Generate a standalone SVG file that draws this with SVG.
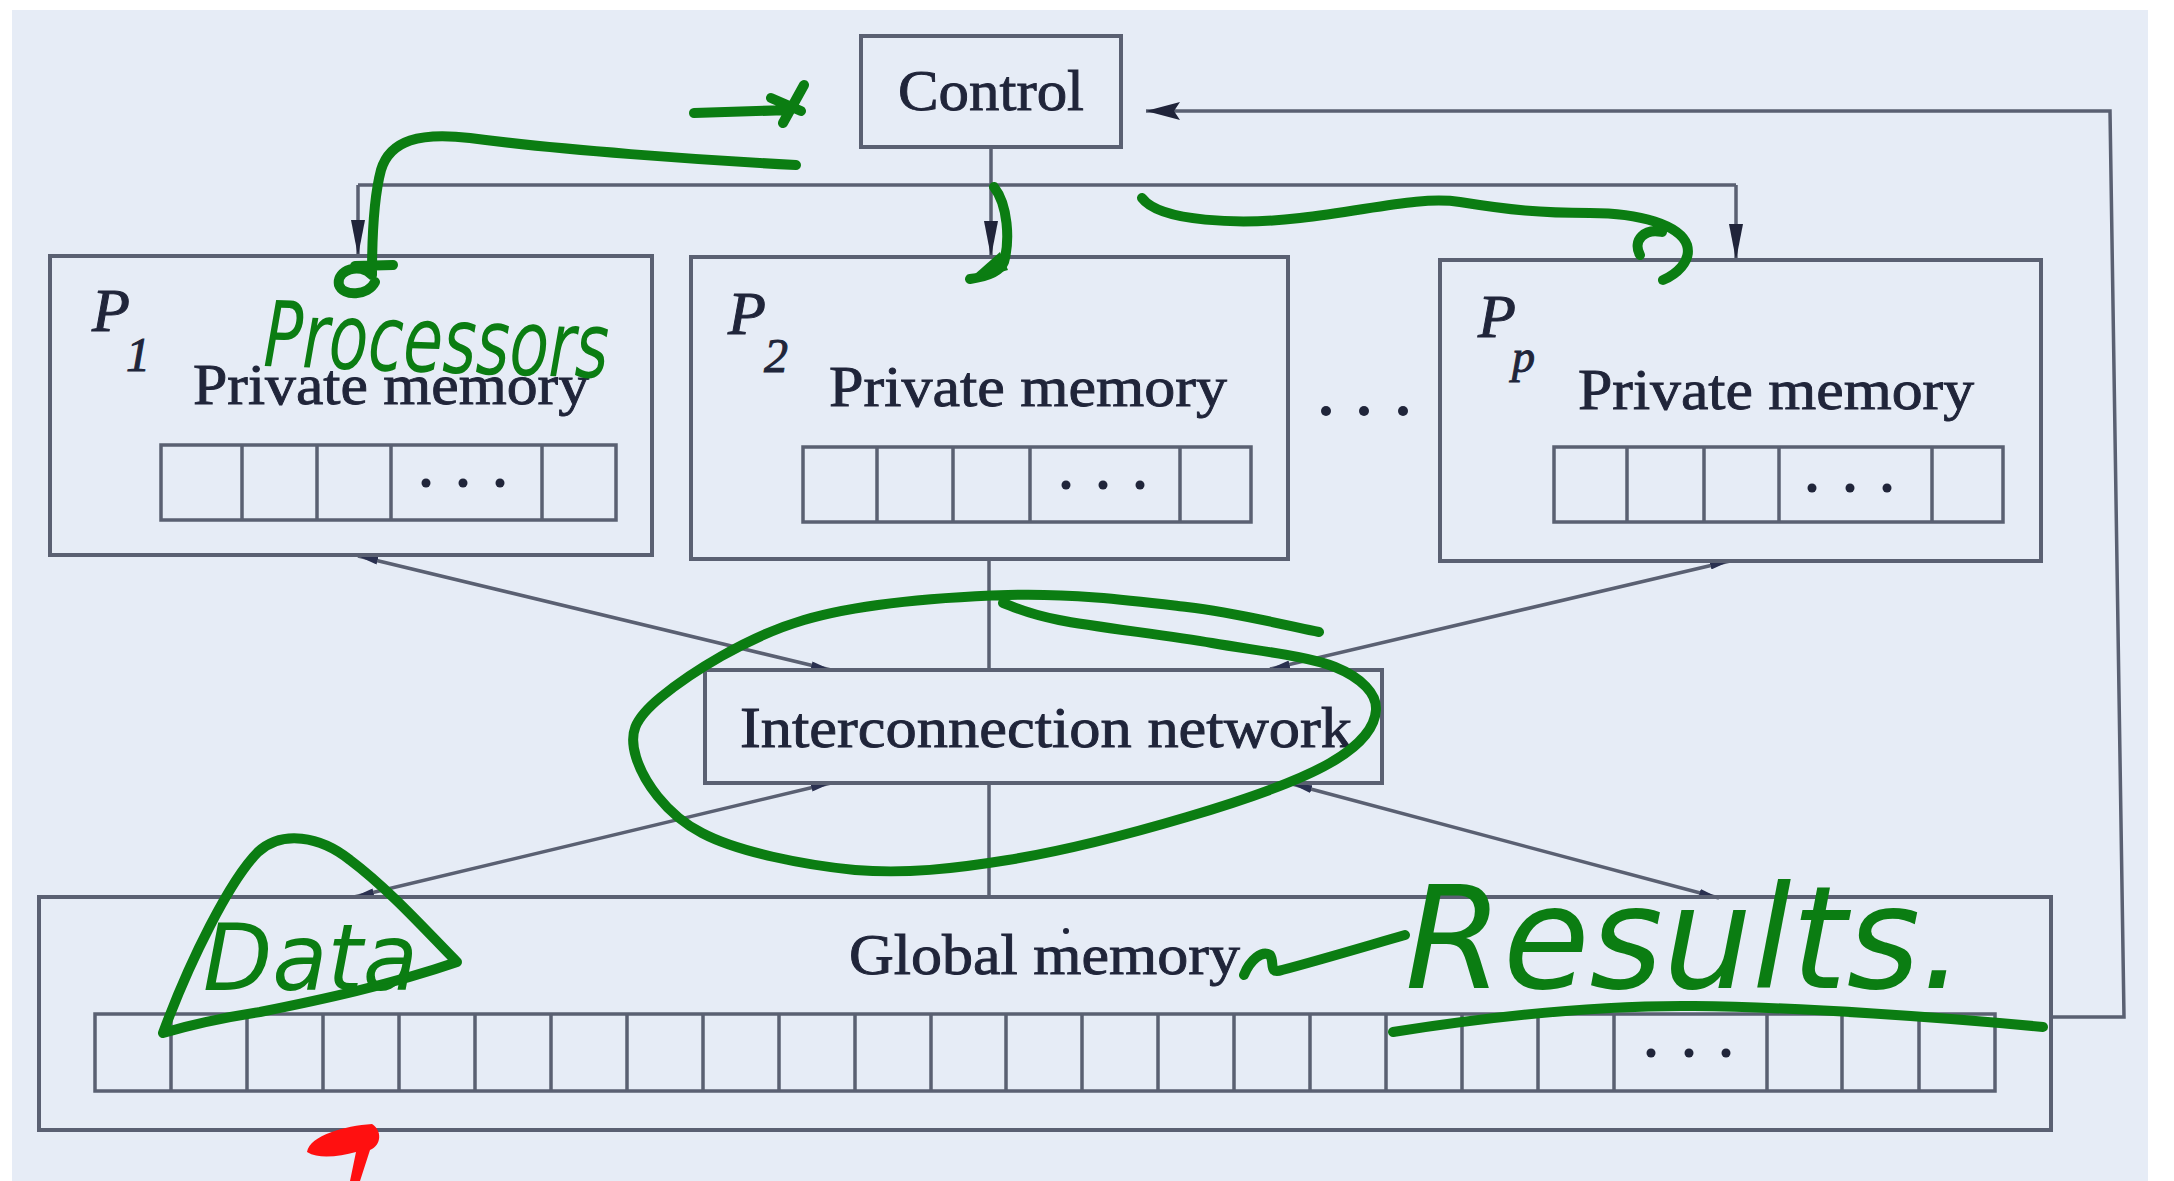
<svg xmlns="http://www.w3.org/2000/svg" width="2174" height="1181" viewBox="0 0 2174 1181">
  <defs>
    <style>
      .box{fill:none;stroke:#5a6072;stroke-width:4}
      .cell{fill:none;stroke:#5a6072;stroke-width:3.5}
      .wire{fill:none;stroke:#5a6072;stroke-width:3.5}
      .lbl{font-family:"Liberation Serif","Times New Roman",serif;font-size:58px;fill:#20253a;stroke:#20253a;stroke-width:0.9}
      .pn{font-family:"Liberation Serif","Times New Roman",serif;font-style:italic;fill:#20253a;stroke:#20253a;stroke-width:1}
      .dot{fill:#20253a}
      .ink{fill:none;stroke:#0b7d12;stroke-width:10;stroke-linecap:round;stroke-linejoin:round}
      .hand{font-family:"DejaVu Sans",sans-serif;font-style:italic;fill:#0b7d12}
    </style>
    <marker id="drop" markerUnits="userSpaceOnUse" markerWidth="36" markerHeight="14" refX="36" refY="7" orient="auto" viewBox="0 0 36 14">
      <path d="M0,0 L36,7 L0,14 Z" fill="#20243a"/>
    </marker>
    <marker id="back" markerUnits="userSpaceOnUse" markerWidth="34" markerHeight="18" refX="34" refY="9" orient="auto" viewBox="0 0 34 18">
      <path d="M0,0 L34,9 L0,18 L6,9 Z" fill="#20243a"/>
    </marker>
    <marker id="tip" markerUnits="userSpaceOnUse" markerWidth="20" markerHeight="8" refX="20" refY="4" orient="auto-start-reverse" viewBox="0 0 20 8">
      <path d="M0,0 L20,4 L0,8 Z" fill="#2a3050"/>
    </marker>
  </defs>

  <!-- page -->
  <rect x="0" y="0" width="2174" height="1181" fill="#ffffff"/>
  <rect x="12" y="10" width="2136" height="1171" fill="#e6ecf6"/>

  <!-- connectors -->
  <g id="connectors">
    <path class="wire" d="M991,147 V185"/>
    <path class="wire" d="M358,185 H1736"/>
    <path class="wire" d="M358,185 V256" marker-end="url(#drop)"/>
    <path class="wire" d="M991,185 V257" marker-end="url(#drop)"/>
    <path class="wire" d="M1736,185 V260" marker-end="url(#drop)"/>
    <path class="wire" d="M358,556 L831,670" marker-start="url(#tip)" marker-end="url(#tip)"/>
    <path class="wire" d="M989,559 V670"/>
    <path class="wire" d="M1730,561 L1270,669" marker-start="url(#tip)" marker-end="url(#tip)"/>
    <path class="wire" d="M831,783 L354,897" marker-start="url(#tip)" marker-end="url(#tip)"/>
    <path class="wire" d="M989,783 V897"/>
    <path class="wire" d="M1292,784 L1719,898" marker-start="url(#tip)" marker-end="url(#tip)"/>
    <path class="wire" d="M2051,1017 H2124 L2110,111 H1146" marker-end="url(#back)"/>
  </g>

  <!-- control unit -->
  <g id="node-control">
    <rect class="box" x="861" y="36" width="260" height="111"/>
    <text class="lbl" x="898" y="110" textLength="186" lengthAdjust="spacingAndGlyphs">Control</text>
  </g>

  <!-- processor 1 -->
  <g id="node-p1">
    <rect class="box" x="50" y="256" width="602" height="299"/>
    <text class="pn" x="92" y="331" font-size="62">P</text>
    <text class="pn" x="126" y="371" font-size="48">1</text>
    <text class="lbl" x="193" y="404" textLength="396" lengthAdjust="spacingAndGlyphs">Private memory</text>
    <rect class="cell" x="161" y="445" width="455" height="75"/>
    <path class="cell" d="M242,445 V520 M317,445 V520 M391,445 V520 M542,445 V520"/>
    <circle class="dot" cx="426" cy="483" r="4.5"/>
    <circle class="dot" cx="463" cy="483" r="4.5"/>
    <circle class="dot" cx="500" cy="483" r="4.5"/>
  </g>

  <!-- processor 2 -->
  <g id="node-p2">
    <rect class="box" x="691" y="257" width="597" height="302"/>
    <text class="pn" x="728" y="334" font-size="62">P</text>
    <text class="pn" x="764" y="372" font-size="48">2</text>
    <text class="lbl" x="829" y="406" textLength="398" lengthAdjust="spacingAndGlyphs">Private memory</text>
    <rect class="cell" x="803" y="447" width="448" height="75"/>
    <path class="cell" d="M877,447 V522 M953,447 V522 M1030,447 V522 M1180,447 V522"/>
    <circle class="dot" cx="1066" cy="485" r="4.5"/>
    <circle class="dot" cx="1103" cy="485" r="4.5"/>
    <circle class="dot" cx="1140" cy="485" r="4.5"/>
  </g>

  <!-- more processors -->
  <g id="node-ellipsis">
    <circle class="dot" cx="1326" cy="411" r="5"/>
    <circle class="dot" cx="1364" cy="411" r="5"/>
    <circle class="dot" cx="1403" cy="411" r="5"/>
  </g>

  <!-- processor p -->
  <g id="node-pp">
    <rect class="box" x="1440" y="260" width="601" height="301"/>
    <text class="pn" x="1478" y="337" font-size="62">P</text>
    <text class="pn" x="1512" y="372" font-size="46">p</text>
    <text class="lbl" x="1578" y="409" textLength="396" lengthAdjust="spacingAndGlyphs">Private memory</text>
    <rect class="cell" x="1554" y="447" width="449" height="75"/>
    <path class="cell" d="M1627,447 V522 M1704,447 V522 M1779,447 V522 M1932,447 V522"/>
    <circle class="dot" cx="1812" cy="488" r="4.5"/>
    <circle class="dot" cx="1850" cy="488" r="4.5"/>
    <circle class="dot" cx="1887" cy="488" r="4.5"/>
  </g>

  <!-- interconnection network -->
  <g id="node-interconnect">
    <rect class="box" x="705" y="670" width="677" height="113"/>
    <text class="lbl" x="740" y="747" textLength="612" lengthAdjust="spacingAndGlyphs">Interconnection network</text>
  </g>

  <!-- global memory -->
  <g id="node-global">
    <rect class="box" x="39" y="897" width="2012" height="233"/>
    <text class="lbl" x="849" y="974" textLength="391" lengthAdjust="spacingAndGlyphs">Global memory</text>
    <circle class="dot" cx="1066" cy="931" r="3"/>
    <rect class="cell" x="95" y="1014" width="1900" height="77"/>
    <path class="cell" d="M171,1014 V1091 M247,1014 V1091 M323,1014 V1091 M399,1014 V1091 M475,1014 V1091 M551,1014 V1091 M627,1014 V1091 M703,1014 V1091 M779,1014 V1091 M855,1014 V1091 M931,1014 V1091 M1006,1014 V1091 M1082,1014 V1091 M1158,1014 V1091 M1234,1014 V1091 M1310,1014 V1091 M1386,1014 V1091 M1462,1014 V1091 M1538,1014 V1091 M1614,1014 V1091 M1767,1014 V1091 M1842,1014 V1091 M1919,1014 V1091"/>
    <circle class="dot" cx="1651" cy="1053" r="4.5"/>
    <circle class="dot" cx="1689" cy="1053" r="4.5"/>
    <circle class="dot" cx="1726" cy="1053" r="4.5"/>
  </g>

  <!-- pen notes -->
  <g id="pen-notes">
    <path class="ink" d="M694,113 L790,110 M804,85 L783,123 M771,98 L801,111"/>
    <path class="ink" d="M796,165 C700,160 560,150 470,138 C420,132 390,140 381,170 C373,200 372,240 372,275 M372,275 C360,262 336,270 339,285 C343,297 368,296 375,282 M355,266 L393,265"/>
    <text class="hand" font-size="70" textLength="345" lengthAdjust="spacingAndGlyphs" transform="translate(263 366) rotate(2) scale(1 1.3)">Processors</text>
    <path class="ink" d="M994,187 C1008,205 1010,240 1004,262 C1000,272 985,277 970,279"/>
    <path d="M966,282 L1000,252 L1008,270 Z" fill="#0b7d12"/>
    <path class="ink" d="M1142,198 C1160,222 1240,225 1300,218 C1370,210 1420,196 1460,202 C1510,210 1540,213 1590,213 C1640,213 1680,225 1687,245 C1692,262 1675,275 1663,280 M1640,255 C1632,240 1645,228 1662,232"/>
    <path class="ink" d="M1319,632 C1297,628 1239,613 1187,607 C1135,601 1072,593 1008,595 C944,597 862,603 804,620 C746,637 689,674 661,697 C633,720 629,734 636,757 C643,780 665,814 702,833 C738,852 804,865 855,870 C906,874 953,869 1008,860 C1063,851 1133,833 1187,817 C1241,801 1299,781 1330,763 C1362,745 1375,726 1376,710 C1377,694 1362,678 1335,667 C1308,656 1258,651 1212,643 C1166,635 1094,627 1059,620 C1024,613 1012,606 1003,603"/>
    <path class="ink" d="M163,1033 C190,960 230,880 258,852 C282,830 320,836 350,860 C390,890 430,935 457,962 C390,985 320,1000 260,1012 C220,1018 190,1025 163,1033 Z"/>
    <text class="hand" font-size="74" textLength="215" lengthAdjust="spacingAndGlyphs" transform="translate(203 990) scale(1 1.25)">Data</text>
    <path class="ink" d="M1244,975 C1250,960 1262,950 1270,955 C1275,962 1268,975 1282,970 C1320,960 1370,945 1405,935"/>
    <text class="hand" font-size="98" textLength="560" lengthAdjust="spacingAndGlyphs" transform="translate(1405 988) scale(1 1.45)">Results.</text>
    <path class="ink" d="M1393,1032 C1500,1015 1600,1005 1694,1006 C1800,1007 1950,1018 2043,1027"/>
    <path d="M307,1152 C310,1135 345,1126 372,1124 C382,1130 382,1145 370,1150 L360,1181 L350,1181 L356,1152 C340,1156 320,1160 307,1152 Z" fill="#ff1010"/>
  </g>
</svg>
